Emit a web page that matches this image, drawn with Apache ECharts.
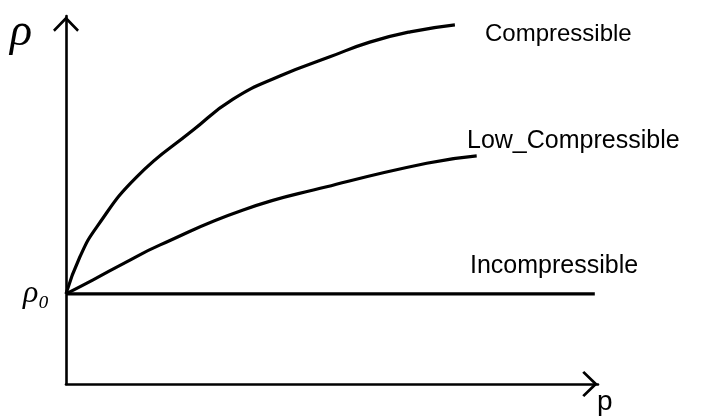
<!DOCTYPE html>
<html>
<head>
<meta charset="utf-8">
<script src="https://cdn.jsdelivr.net/npm/echarts@6/dist/echarts.min.js"></script>
<style>
  html, body { margin: 0; padding: 0; background: #fff; }
  #chart { width: 703px; height: 420px; }
</style>
</head>
<body>
<div id="chart"></div>
<script>
// reference density rho0 (level of the incompressible line)
var rho0 = 2.45

// points, [p, rho]
var compressible = [
  [0, 2.45], [0.26, 3.45], [0.58, 4.27], [1.33, 5.63], [2.39, 6.90],
  [3.14, 7.74], [4.02, 8.37], [4.96, 8.89], [5.71, 9.29], [6.47, 9.57],
  [7.31, 9.76]
]
var lowCompressible = [
  [0, 2.45], [0.51, 2.83], [1.14, 3.32], [1.77, 3.78], [3.33, 4.73],
  [4.90, 5.36], [6.78, 6.00], [7.72, 6.20]
]
var incompressible = [[0, rho0], [9.94, rho0]]

var curveNames = ['Compressible', 'Low_Compressible', 'Incompressible']

// open chevron used as arrow head on both axes
var chevron = 'path://M13,0 L26,13.5 L24.2,15.5 L13,4 L1.8,15.5 L0,13.5 Z'

var myChart = echarts.init(document.getElementById('chart'))

var axisLine = {
  show: true,
  onZero: false,
  symbol: ['none', chevron],
  symbolSize: [26, 16],
  symbolOffset: [0, -8],
  lineStyle: { color: '#000', width: 2.6 }
}

var lineSeries = function (name, data) {
  return {
    name: name,
    type: 'line',
    data: data,
    smooth: 0.5,
    showSymbol: false,
    symbol: 'none',
    lineStyle: { color: '#000', width: 3.2 }
  }
}

var labelFont = 'Liberation Sans, Arial, sans-serif'

var option = {
  animation: false,
  backgroundColor: '#fff',
  grid: { left: 66, right: 105, top: 16, bottom: 36 },
  xAxis: {
    type: 'value',
    min: 0,
    max: 10,
    axisLine: axisLine,
    axisTick: { show: false },
    axisLabel: { show: false },
    splitLine: { show: false }
  },
  yAxis: {
    type: 'value',
    min: 0,
    max: 10,
    axisLine: axisLine,
    axisTick: { show: false },
    axisLabel: { show: false },
    splitLine: { show: false }
  },
  series: [
    lineSeries(curveNames[0], compressible),
    lineSeries(curveNames[1], lowCompressible),
    lineSeries(curveNames[2], incompressible)
  ],
  graphic: [
    // axis letters
    { type: 'text', left: 10, top: 10,
      style: { text: 'ρ', font: 'italic 46px Liberation Serif, serif', fill: '#000' } },
    { type: 'text', left: 597, top: 388,
      style: { text: 'p', font: '28px ' + labelFont, fill: '#000' } },
    { type: 'text', left: 23, top: 278,
      style: { text: 'ρ₀', font: 'italic 32px Liberation Serif, serif', fill: '#000' } },
    // curve labels
    { type: 'text', left: 485, top: 22,
      style: { text: curveNames[0], font: '24px ' + labelFont, fill: '#000' } },
    { type: 'text', left: 467, top: 129,
      style: { text: curveNames[1], font: '25px ' + labelFont, fill: '#000' } },
    { type: 'text', left: 470, top: 254,
      style: { text: curveNames[2], font: '25px ' + labelFont, fill: '#000' } }
  ]
}

myChart.setOption(option)
</script>
</body>
</html>
